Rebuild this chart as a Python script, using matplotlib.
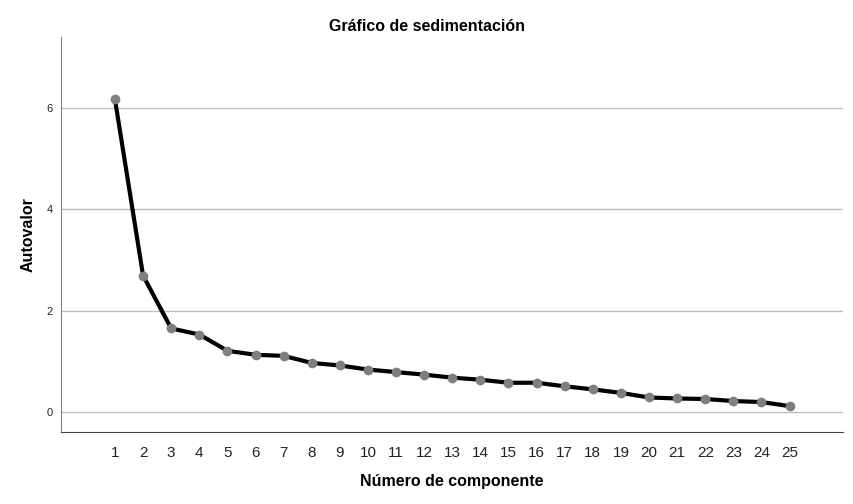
import matplotlib
matplotlib.use("Agg")
import matplotlib.pyplot as plt

# eigenvalues
componentes = list(range(1, 26))
autovalores = [6.16, 2.69, 1.65, 1.53, 1.21, 1.13, 1.11, 0.97, 0.92, 0.84,
               0.79, 0.74, 0.68, 0.64, 0.58, 0.58, 0.51, 0.45, 0.38, 0.29,
               0.27, 0.26, 0.22, 0.20, 0.12]
yticks = [0, 2, 4, 6]

plt.rcParams['font.family'] = ['Liberation Sans', 'DejaVu Sans']

fig = plt.figure(figsize=(8.54, 5.04), dpi=100)
ax = fig.add_axes([61/854, 1 - 432/504, (843 - 61)/854, (432 - 37)/504])

ax.plot(componentes, autovalores, color='black', lw=3, zorder=3)
ax.plot(componentes, autovalores, 'o', color='#7f7f7f', ms=6, zorder=4)

ax.set_xlim(-0.92, 26.9)
ax.set_ylim(-0.39, 7.39)
ax.set_xticks(componentes)
ax.set_yticks(yticks)
ax.tick_params(axis='x', length=0, labelsize=11, pad=10, colors='#222222')
ax.tick_params(axis='y', length=0, labelsize=8, pad=6, colors='#222222')
ax.yaxis.grid(True, color='#bdbdbd', lw=1)
ax.set_axisbelow(True)

for s in ['top', 'right']:
    ax.spines[s].set_visible(False)
ax.spines['left'].set_color('#808080')
ax.spines['bottom'].set_color('#404040')

# title sits over the figure centre, not the axes centre
ax.set_title('Gráfico de sedimentación', fontsize=11.5, fontweight='bold', pad=4,
             x=(427 - 61) / 782)
ax.set_xlabel('Número de componente', fontsize=11.5, fontweight='bold', labelpad=10)
ax.set_ylabel('Autovalor', fontsize=11.5, fontweight='bold', labelpad=8)

fig.savefig('out.png', dpi=100)
